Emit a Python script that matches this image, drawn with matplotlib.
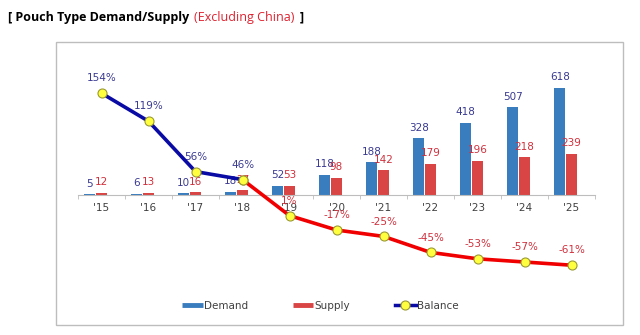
import numpy as np
import matplotlib
matplotlib.use('Agg')
import matplotlib.pyplot as plt
from matplotlib.lines import Line2D
from matplotlib.patches import Rectangle

years = ["'15", "'16", "'17", "'18", "'19", "'20", "'21", "'22", "'23", "'24", "'25"]
demand = [5, 6, 10, 18, 52, 118, 188, 328, 418, 507, 618]
supply = [12, 13, 16, 27, 53, 98, 142, 179, 196, 218, 239]
balance = [154, 119, 56, 46, 1, -17, -25, -45, -53, -57, -61]

DEMAND_C = '#3A7DBF'
SUPPLY_C = '#D94444'
NAVY_TXT = '#3A3A92'
RED_TXT = '#D0303C'
NUM_FONT = ['Liberation Sans Narrow', 'DejaVu Sans']

fig = plt.figure(figsize=(6.4, 3.35), dpi=100)
fig.patch.set_facecolor('white')

# gray frame round the chart
fig.patches.append(Rectangle((56 / 640, 10 / 335), 567 / 640, 283 / 335,
                             transform=fig.transFigure, fill=False,
                             edgecolor='#BDBDBD', lw=1.0))

# title in pieces (black bold / red normal / black bold)
t1 = fig.text(8 / 640, 1 - 17 / 335, '[ Pouch Type Demand/Supply', fontsize=9,
              fontweight='bold', family='Open Sans', va='center', ha='left')
fig.canvas.draw()
r = fig.canvas.get_renderer()
bb = t1.get_window_extent(r)
t2 = fig.text((bb.x1 + 5) / 640, 1 - 17 / 335, '(Excluding China)', fontsize=9,
              color='#E0202E', family='Open Sans', va='center', ha='left')
bb2 = t2.get_window_extent(r)
fig.text((bb2.x1 + 5) / 640, 1 - 17 / 335, ']', fontsize=9, fontweight='bold',
         family='Open Sans', va='center', ha='left')

ax = fig.add_axes([78 / 640, 55 / 335, 517 / 640, 220 / 335])
x = np.arange(len(years))
w = 0.24
ax.bar(x - 0.25, demand, w, color=DEMAND_C, label='Demand', zorder=2)
ax.bar(x, supply, w, color=SUPPLY_C, label='Supply', zorder=2)

for xi, d, s in zip(x, demand, supply):
    ax.annotate(str(d), (xi - 0.25, d), xytext=(0, 5.5), textcoords='offset points',
                ha='center', va='baseline', fontsize=7.5, color=NAVY_TXT, family=NUM_FONT)
    ax.annotate(str(s), (xi, s), xytext=(0, 5.5), textcoords='offset points',
                ha='center', va='baseline', fontsize=7.5, color=RED_TXT, family=NUM_FONT)

ax.set_xlim(-0.5, len(years) - 0.5)
ax.set_ylim(-491, 780)
for sp in ['top', 'right', 'left']:
    ax.spines[sp].set_visible(False)
ax.spines['bottom'].set_position(('data', 0))
ax.spines['bottom'].set_color('#BDBDBD')
ax.set_yticks([])
ax.set_xticks(x)
ax.set_xticklabels(years, fontsize=7.5, color='#404040', family=NUM_FONT)
ax.tick_params(axis='x', which='major', length=0, pad=6)
ax.set_xticks(np.arange(-0.5, len(years), 1.0), minor=True)
ax.tick_params(axis='x', which='minor', length=3, color='#BDBDBD', direction='out')

ax2 = ax.twinx()
ax2.set_ylim(-79.5, 195.5)
for sp in ax2.spines.values():
    sp.set_visible(False)
ax2.set_yticks([])
mk = dict(marker='o', markersize=6.5, markerfacecolor='#FFFF40',
          markeredgecolor='#9A9A30', markeredgewidth=0.8)
ax2.plot(x[3:], balance[3:], color='#F00000', lw=2.6, zorder=3, **mk)
ax2.plot(x[:4], balance[:4], color='#0A0AA5', lw=2.6, zorder=4, **mk)
for xi, b in zip(x, balance):
    ax2.annotate(f'{b}%', (xi, b), xytext=(0, 8.5), textcoords='offset points',
                 ha='center', va='baseline', fontsize=7.5,
                 color=NAVY_TXT if b > 40 else RED_TXT, family=NUM_FONT)

handles = [Line2D([], [], color=DEMAND_C, lw=3.5, solid_capstyle='butt'),
           Line2D([], [], color=SUPPLY_C, lw=3.5, solid_capstyle='butt'),
           Line2D([], [], color='#0A0AA5', lw=2.5, **mk)]
fig.legend(handles, ['Demand', 'Supply', 'Balance'], loc='center',
           bbox_to_anchor=(320 / 640, 1 - 306 / 335), ncol=3, frameon=False,
           labelcolor='#404040', handlelength=2.0, handletextpad=0.1,
           columnspacing=4.3, prop={'family': NUM_FONT, 'size': 7.5})

fig.savefig('out.png', dpi=100)
